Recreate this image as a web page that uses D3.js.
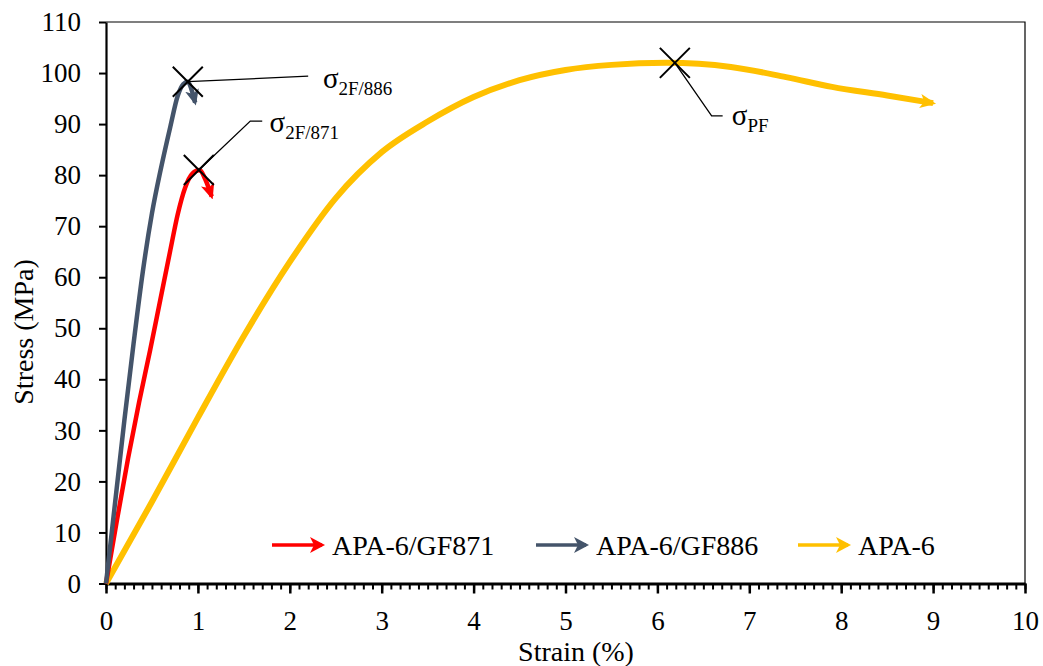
<!DOCTYPE html>
<html>
<head>
<meta charset="utf-8">
<script src="https://cdn.jsdelivr.net/npm/d3@7"></script>
<style>
  body { margin: 0; background: #fff; }
  svg text { font-family: 'Liberation Serif', 'Times New Roman', 'DejaVu Serif', serif; fill: #000; }
</style>
</head>
<body>
<svg id="chart" width="1043" height="666"></svg>
<script>
// ---------- data

const seriesNames = ['APA-6/GF871', 'APA-6/GF886', 'APA-6'];
const seriesColors = ['#ff0000', '#44546a', '#ffc000'];

const strain871 = [0, 0.12, 0.24, 0.36, 0.48, 0.59, 0.70, 0.78, 0.86, 0.94, 1.02, 1.08, 1.15];
const stress871 = [0, 12.5, 24.5, 35.5, 45.7, 55.5, 65.3, 72.3, 77.5, 80.3, 81.0, 79.2, 75.8];

const strain886 = [0, 0.1, 0.2, 0.3, 0.4, 0.5, 0.6, 0.7, 0.78, 0.84, 0.89, 0.93, 0.97];
const stress886 = [0, 16, 32, 47, 61, 72.5, 81.5, 89.5, 95.5, 97.8, 98.3, 96.8, 94.2];

const strainPA6 = [0, 0.5, 1.0, 1.5, 2.0, 2.5, 3.0, 3.5, 4.0, 4.5, 5.0, 5.5, 6.1, 6.8, 7.4, 7.9, 8.5, 9.0];
const stressPA6 = [0, 16, 32.5, 48.5, 63, 75.5, 84.5, 90.5, 95.3, 98.6, 100.6, 101.6, 102, 101.2, 99.2, 97.3, 95.6, 94.1];

const xTicks = [0, 1, 2, 3, 4, 5, 6, 7, 8, 9, 10];
const yTicks = [0, 10, 20, 30, 40, 50, 60, 70, 80, 90, 100, 110];

// failure points (X markers) and their labels, in data units
const annoSub = ['2F/886', '2F/871', 'PF'];
const annoPoint = [[0.89, 98.3], [1.01, 81.0], [6.19, 102.0]];
const annoLeader = [
  [[0.89, 98.3], [2.20, 99.4]],
  [[1.01, 81.0], [1.57, 90.6], [1.70, 90.6]],
  [[6.19, 102.0], [6.59, 91.6], [6.71, 91.6]]
];
const annoText = [[2.36, 97.0], [1.78, 88.4], [6.81, 89.8]];

// ---------- layout

const svg = d3.select('#chart');
const margin = {top: 22, right: 18, bottom: 82.5, left: 106};
const width = 1043, height = 666;
const plotW = width - margin.left - margin.right;
const plotH = height - margin.top - margin.bottom;

const xScale = d3.scaleLinear().domain([0, 10]).range([0, plotW]);
const yScale = d3.scaleLinear().domain([0, 110]).range([plotH, 0]);

const g = svg.append('g')
    .attr('transform', `translate(${margin.left}, ${margin.top})`);

// arrowheads
const defs = svg.append('defs');
seriesColors.forEach((c, i) => {
  defs.append('marker')
      .attr('id', 'arrow' + i)
      .attr('markerUnits', 'userSpaceOnUse')
      .attr('viewBox', '0 0 16 14')
      .attr('refX', 13)
      .attr('refY', 7)
      .attr('markerWidth', 16)
      .attr('markerHeight', 14)
      .attr('orient', 'auto')
    .append('path')
      .attr('d', 'M0,0 L16,7 L0,14 L4,7 Z')
      .attr('fill', c);
});

// frame
g.append('path')
    .attr('d', `M0,0 H${plotW} V${plotH}`)
    .attr('fill', 'none')
    .attr('stroke', '#000')
    .attr('stroke-width', 1.2);

// ---------- axes

const xMinor = d3.range(0, 101).map(i => i / 10);
g.append('g')
    .attr('transform', `translate(0,${plotH})`)
    .call(d3.axisBottom(xScale).tickValues(xMinor).tickSize(6).tickFormat(''))
    .call(a => a.select('.domain').remove())
    .call(a => a.selectAll('line').attr('stroke-width', 2));

const xAxis = g.append('g')
    .attr('transform', `translate(0,${plotH})`)
    .call(d3.axisBottom(xScale).tickValues(xTicks).tickSize(10).tickSizeOuter(0).tickFormat(d3.format('d')));
xAxis.attr('font-family', null).attr('font-size', 27);
xAxis.select('.domain').attr('stroke-width', 3);
xAxis.selectAll('line').attr('stroke-width', 2.5);
xAxis.selectAll('text').attr('y', 27);

const yAxis = g.append('g')
    .call(d3.axisLeft(yScale).tickValues(yTicks).tickSize(7).tickSizeOuter(0).tickPadding(18));
yAxis.attr('font-family', null).attr('font-size', 27);
yAxis.select('.domain').attr('stroke-width', 2.2);
yAxis.selectAll('line').attr('stroke-width', 2);

// axis titles
svg.append('text')
    .attr('x', 576)
    .attr('y', 661)
    .attr('text-anchor', 'middle')
    .attr('font-size', 28)
    .text('Strain (%)');

svg.append('text')
    .attr('transform', 'translate(33,332) rotate(-90)')
    .attr('text-anchor', 'middle')
    .attr('font-size', 28)
    .text('Stress (MPa)');

// ---------- curves

const series = [
  strain871.map((d, i) => [d, stress871[i]]),
  strain886.map((d, i) => [d, stress886[i]]),
  strainPA6.map((d, i) => [d, stressPA6[i]])
];

const line = d3.line()
    .x(d => xScale(d[0]))
    .y(d => yScale(d[1]))
    .curve(d3.curveMonotoneX);

const lineOrder = [2, 0, 1];
lineOrder.forEach(i => {
  g.append('path')
      .datum(series[i])
      .attr('fill', 'none')
      .attr('stroke', seriesColors[i])
      .attr('stroke-width', i === 2 ? 6 : 4.5)
      .attr('stroke-linejoin', 'round')
      .attr('d', line)
      .attr('marker-end', `url(#arrow${i})`);
});

// ---------- annotations

annoLeader.forEach(pts => {
  g.append('path')
      .attr('d', d3.line().x(d => xScale(d[0])).y(d => yScale(d[1]))(pts))
      .attr('fill', 'none')
      .attr('stroke', '#000')
      .attr('stroke-width', 1.3);
});

annoPoint.forEach(p => {
  const cx = xScale(p[0]), cy = yScale(p[1]), r = 15;
  g.append('path')
      .attr('d', `M${cx - r},${cy - r} L${cx + r},${cy + r} M${cx - r},${cy + r} L${cx + r},${cy - r}`)
      .attr('stroke', '#000')
      .attr('stroke-width', 2);
});

annoText.forEach((p, i) => {
  const t = g.append('text')
      .attr('x', xScale(p[0]))
      .attr('y', yScale(p[1]))
      .attr('font-size', 29);
  t.append('tspan').text('σ');
  t.append('tspan')
      .attr('dy', 7)
      .attr('font-size', 19)
      .text(annoSub[i]);
});

// ---------- legend

const legendX = [272, 536, 798];
const legend = svg.append('g');
seriesNames.forEach((name, i) => {
  const lg = legend.append('g').attr('transform', `translate(${legendX[i]}, 545)`);
  lg.append('line')
      .attr('x1', 0).attr('x2', 50)
      .attr('stroke', seriesColors[i])
      .attr('stroke-width', 3.5);
  lg.append('path')
      .attr('d', 'M38,-8 L53,0 L38,8 L42,0 Z')
      .attr('fill', seriesColors[i]);
  lg.append('text')
      .attr('x', 60)
      .attr('y', 10)
      .attr('font-size', 28)
      .text(name);
});
</script>
</body>
</html>
